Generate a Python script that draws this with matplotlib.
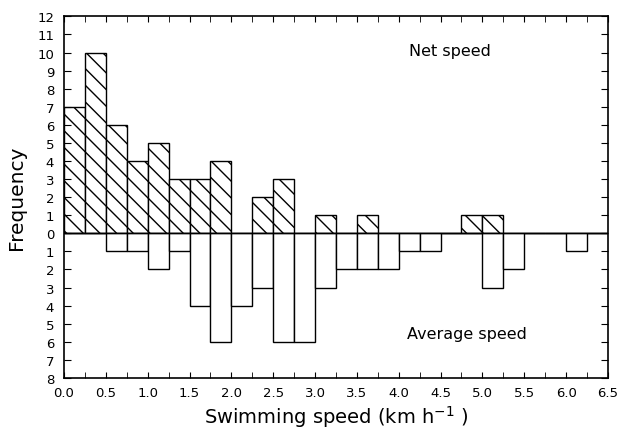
import numpy as np
import matplotlib
matplotlib.use('Agg')
import matplotlib.pyplot as plt

# bin left edges (km/h), 0.25 wide
bin_edges = np.arange(0, 6.5, 0.25)
net_speed = [7, 10, 6, 4, 5, 3, 3, 4, 0, 2, 3, 0, 1, 0, 1, 0, 0, 0, 0, 1, 1, 0, 0, 0, 0, 0]
avg_speed = [0, 0, 1, 1, 2, 1, 4, 6, 4, 3, 6, 6, 3, 2, 2, 2, 1, 1, 0, 0, 3, 2, 0, 0, 1, 0]
y_ticks = np.arange(-8, 13)
x_ticks = np.arange(0, 6.51, 0.5)

plt.rcParams['hatch.linewidth'] = 1.0

fig = plt.figure(figsize=(6.21, 4.35), dpi=100)
ax = fig.add_axes([0.103, 0.129, 0.876, 0.831])

ax.bar(bin_edges, net_speed, width=0.25, align='edge', color='white',
       edgecolor='black', hatch='\\\\', linewidth=1.0)
ax.bar(bin_edges, -np.array(avg_speed), width=0.25, align='edge', color='white',
       edgecolor='black', linewidth=1.0)
ax.axhline(0, color='black', linewidth=1.0)

ax.set_xlim(0, 6.5)
ax.set_ylim(-8, 12)
ax.set_xticks(x_ticks)
ax.set_xticks(np.arange(0, 6.51, 0.25), minor=True)
ax.set_xticklabels(['%.1f' % v for v in x_ticks])
ax.set_yticks(y_ticks)
ax.set_yticklabels([str(abs(v)) for v in y_ticks])
ax.tick_params(which='both', direction='in', top=True, right=True, labelsize=9.5)
ax.tick_params(axis='x', which='both', length=4, pad=6)
ax.tick_params(axis='y', which='both', length=5, pad=7)
for s in ax.spines.values():
    s.set_linewidth(1.2)

ax.set_xlabel('Swimming speed (km h$^{-1}$ )', fontsize=14, labelpad=3)
ax.set_ylabel('Frequency', fontsize=14.5, labelpad=8)
ax.text(4.61, 10.1, 'Net speed', fontsize=11.5, ha='center', va='center')
ax.text(4.82, -5.55, 'Average speed', fontsize=11.5, ha='center', va='center')

fig.savefig('out.png', dpi=100)
